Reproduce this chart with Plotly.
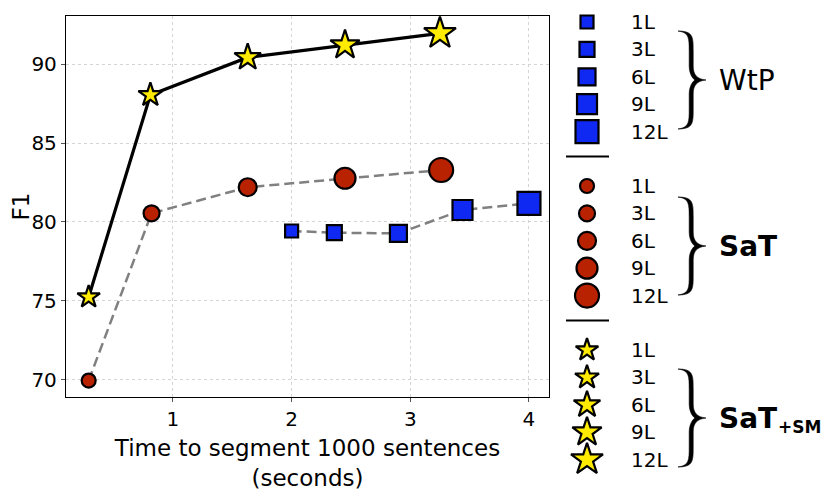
import plotly.graph_objects as go

# model sizes (number of layers)
layers = ["1L", "3L", "6L", "9L", "12L"]

# time to segment 1000 sentences (seconds) and F1
wtp_time = [2.00, 2.36, 2.90, 3.44, 4.00]
wtp_f1 = [79.43, 79.32, 79.28, 80.76, 81.18]

sat_time = [0.29, 0.82, 1.63, 2.45, 3.26]
sat_f1 = [69.96, 80.55, 82.20, 82.77, 83.29]

satsm_time = [0.29, 0.81, 1.63, 2.45, 3.25]
satsm_f1 = [75.25, 88.04, 90.42, 91.20, 91.94]

x_ticks = [1, 2, 3, 4]
y_ticks = [70, 75, 80, 85, 90]

BLUE = "#1029f2"
RED = "#b82200"
YELLOW = "#ffeb00"
FONT = "DejaVu Sans"

SERIES = [
    # name, x, y, symbol, colour, sizes, line colour, dash, line width
    ("WtP", wtp_time, wtp_f1, "square", BLUE, [13, 15, 17, 20, 23], "#808080", "10px,5px", 2.5),
    ("SaT", sat_time, sat_f1, "circle", RED, [14, 16, 18, 21, 24], "#808080", "10px,5px", 2.5),
    ("SaT+SM", satsm_time, satsm_f1, "star", YELLOW, [17, 18, 20, 22, 24], "black", "solid", 3.2),
]

fig = go.Figure()

for name, xs, ys, symbol, color, sizes, lcolor, dash, lw in SERIES:
    fig.add_trace(
        go.Scatter(
            x=xs,
            y=ys,
            mode="lines+markers",
            line=dict(color=lcolor, dash=dash, width=lw),
            marker=dict(symbol=symbol, size=sizes, color=color, opacity=1,
                        line=dict(color="black", width=2.2)),
            hovertemplate=name + " %{text}<br>%{x:.2f}s, F1 %{y:.2f}<extra></extra>",
            text=layers,
        )
    )

# --- hand-made legend on a second (pixel-scaled) axis on the right ---
row0, group_gap, row_step = 22, 164, 27.4
marker_x, label_x, brace_x, group_x = 587, 629, 678, 717
brace_centers = [80, 246, 418]

shapes = []
annotations = []


def brace(x0, yc, half=49, w=28):
    # filled curly brace: thin ends, thicker stem, pointed tip
    xs = x0 + 13
    xt = x0 + w
    yt, yb = yc - half, yc + half
    r, l = xs + 2.2, xs - 1.8
    return (
        f"M {x0},{yt} C {r},{yt} {r},{yt+6} {r},{yt+20} "
        f"L {r},{yc-14} C {r},{yc-5} {xs+6},{yc-1} {xt},{yc} "
        f"C {xs+6},{yc+1} {r},{yc+5} {r},{yc+14} "
        f"L {r},{yb-20} C {r},{yb-6} {r},{yb} {x0},{yb} "
        f"C {l},{yb-1.5} {l},{yb-7} {l},{yb-20} "
        f"L {l},{yc+14} C {l},{yc+6} {xs+2},{yc+1} {xs+4},{yc} "
        f"C {xs+2},{yc-1} {l},{yc-6} {l},{yc-14} "
        f"L {l},{yt+20} C {l},{yt+7} {l},{yt+1.5} {x0},{yt} Z"
    )


for g, (name, xs, ys, symbol, color, sizes, lcolor, dash, lw) in enumerate(SERIES):
    rows = [row0 + g * group_gap + i * row_step for i in range(len(layers))]
    fig.add_trace(
        go.Scatter(
            x=[marker_x] * len(layers),
            y=rows,
            xaxis="x2",
            yaxis="y2",
            mode="markers",
            marker=dict(symbol=symbol, size=sizes, color=color, opacity=1,
                        line=dict(color="black", width=2.2)),
            hoverinfo="skip",
        )
    )
    for lab, r in zip(layers, rows):
        annotations.append(
            dict(x=label_x, y=r, xref="x2", yref="y2", text=lab, showarrow=False,
                 xanchor="left", yanchor="middle", font=dict(size=20, family=FONT, color="black"))
        )
    yc = brace_centers[g]
    shapes.append(
        dict(type="path", path=brace(brace_x, yc), xref="x2", yref="y2",
             fillcolor="black", line=dict(color="black", width=0.6))
    )
    if g < len(SERIES) - 1:
        ysep = rows[-1] + 25
        shapes.append(
            dict(type="line", x0=566, x1=609, y0=ysep, y1=ysep, xref="x2", yref="y2",
                 line=dict(color="black", width=2))
        )

group_labels = [
    dict(text="WtP", x=group_x, y=brace_centers[0], size=28),
    dict(text="<b>SaT</b>", x=group_x, y=brace_centers[1], size=28),
    dict(text="<b>SaT</b>", x=group_x, y=brace_centers[2], size=28),
    dict(text="<b>+SM</b>", x=776, y=brace_centers[2] + 9, size=17),
]
for gl in group_labels:
    annotations.append(
        dict(x=gl["x"], y=gl["y"], xref="x2", yref="y2", text=gl["text"], showarrow=False,
             xanchor="left", yanchor="middle", font=dict(size=gl["size"], family=FONT, color="black"))
    )

axis_common = dict(
    ticks="outside",
    ticklen=4,
    tickcolor="#555",
    showline=True,
    linecolor="black",
    linewidth=1.3,
    mirror=True,
    showgrid=True,
    gridcolor="#d4d4d4",
    griddash="dot",
    gridwidth=1,
    zeroline=False,
    tickfont=dict(size=20, family=FONT, color="black"),
    automargin=False,
)

# the page body adds 8px around the figure, so the figure is 8px smaller each way
fig.update_layout(
    width=822,
    height=490,
    margin=dict(l=58, r=10, t=2, b=10),
    plot_bgcolor="white",
    paper_bgcolor="white",
    showlegend=False,
    font=dict(family=FONT, color="black"),
    xaxis=dict(
        axis_common,
        domain=[0, 0.6406],
        range=[0.099, 4.169],
        tickvals=x_ticks,
        anchor="y",
        title=dict(text="Time to segment 1000 sentences<br>(seconds)",
                   font=dict(size=23, family=FONT, color="black"), standoff=9),
    ),
    yaxis=dict(
        axis_common,
        domain=[0.1904, 0.9874],
        range=[68.92, 93.04],
        tickvals=y_ticks,
        anchor="x",
        title=dict(text="F1", font=dict(size=23, family=FONT, color="black"), standoff=14),
    ),
    xaxis2=dict(domain=[0.6406, 1], range=[549, 820], visible=False, anchor="y2"),
    yaxis2=dict(domain=[0, 1], range=[488, 10], visible=False, anchor="x2"),
    shapes=shapes,
    annotations=annotations,
)

fig.write_html("out.html")
